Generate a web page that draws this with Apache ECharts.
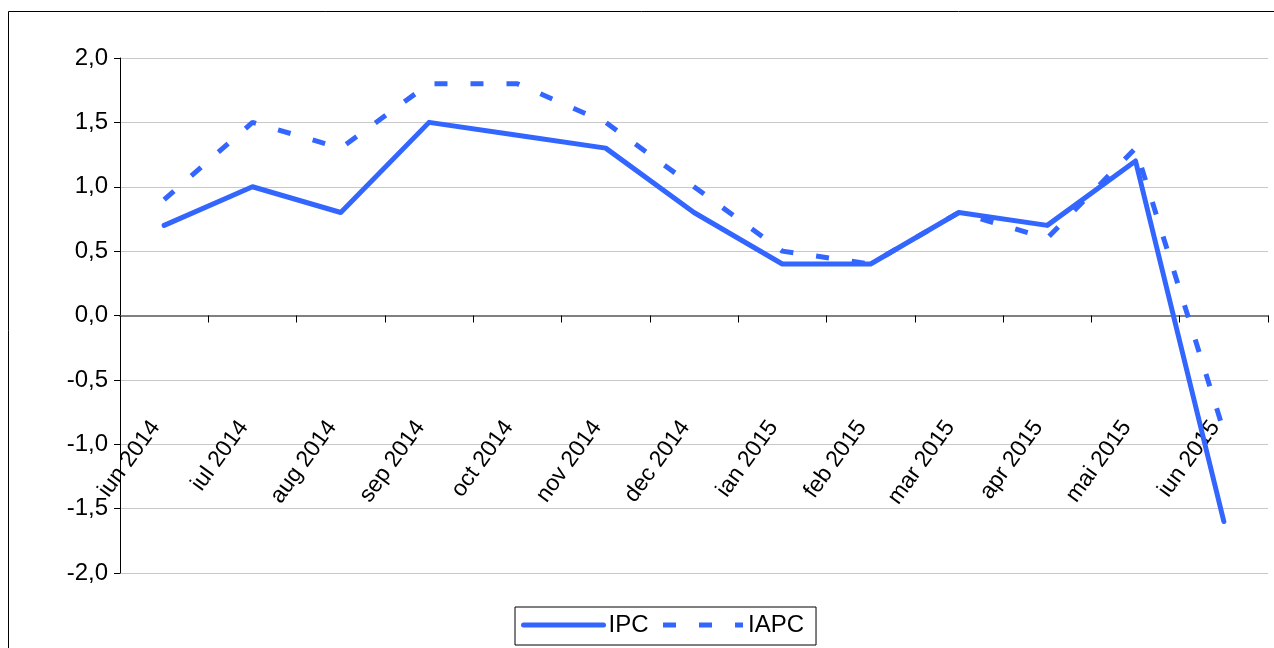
<!DOCTYPE html>
<html><head><meta charset="utf-8">
<script src="https://cdn.jsdelivr.net/npm/echarts@6/dist/echarts.min.js"></script>
<style>html,body{margin:0;padding:0;background:#fff;}#c{width:1274px;height:648px;}</style>
</head><body><div id="c"></div>
<script>
const categories = ['iun 2014','iul 2014','aug 2014','sep 2014','oct 2014','nov 2014','dec 2014','ian 2015','feb 2015','mar 2015','apr 2015','mai 2015','iun 2015'];
const ipc  = [0.7, 1.0, 0.8, 1.5, 1.4, 1.3, 0.8, 0.4, 0.4, 0.8, 0.7, 1.2, -1.6];
const iapc = [0.9, 1.5, 1.3, 1.8, 1.8, 1.5, 1.0, 0.5, 0.4, 0.8, 0.6, 1.3, -0.9];
const yTicks = {min: -2, max: 2, interval: 0.5};

const chart = echarts.init(document.getElementById('c'), null, {renderer: 'canvas'});
const font = 'Liberation Sans, Arial, sans-serif';
const blue = '#3366ff';
chart.setOption({
  animation: false,
  graphic: [{type: 'rect', shape: {x: 8.5, y: 11.5, width: 1300, height: 700}, style: {fill: 'none', stroke: '#000', lineWidth: 1}, z: -1}],
  grid: {left: 120, right: 6, top: 58, bottom: 75, containLabel: false, outerBoundsMode: 'none'},
  legend: {
    top: 607, left: 515, orient: 'horizontal',
    borderColor: '#000', borderWidth: 1, padding: [6, 12, 8, 6],
    itemWidth: 80, itemHeight: 14, itemGap: 12,
    textStyle: {fontFamily: font, fontSize: 24, color: '#000'},
    itemStyle: {color: 'transparent', borderWidth: 0, opacity: 0},
    lineStyle: {width: 5},
    data: ['IPC', 'IAPC']
  },
  xAxis: {
    type: 'category', data: categories, boundaryGap: true,
    axisLine: {onZero: true, lineStyle: {color: '#808080', width: 2}},
    axisTick: {show: true, length: 7, lineStyle: {color: '#000'}},
    axisLabel: {rotate: 54, margin: -162, padding: [0, 15, 0, 0], fontFamily: font, fontSize: 23, color: '#000', interval: 0},
    splitLine: {show: false}
  },
  yAxis: {
    type: 'value', min: yTicks.min, max: yTicks.max, interval: yTicks.interval,
    axisLine: {show: true, lineStyle: {color: '#000', width: 1}},
    axisTick: {show: true, length: 6, lineStyle: {color: '#000'}},
    axisLabel: {fontFamily: font, fontSize: 24, color: '#000', margin: 12,
      formatter: v => v.toFixed(1).replace('.', ',')},
    splitLine: {show: true, lineStyle: {color: '#c8c8c8', width: 1}}
  },
  series: [
    {name: 'IPC', type: 'line', data: ipc, symbol: 'none', showSymbol: false,
     lineStyle: {color: blue, width: 5, cap: 'round', join: 'round'}, itemStyle: {color: blue}},
    {name: 'IAPC', type: 'line', data: iapc, symbol: 'none', showSymbol: false,
     lineStyle: {color: blue, width: 5, type: [13, 23], cap: 'butt'}, itemStyle: {color: blue}}
  ]
});
</script></body></html>
